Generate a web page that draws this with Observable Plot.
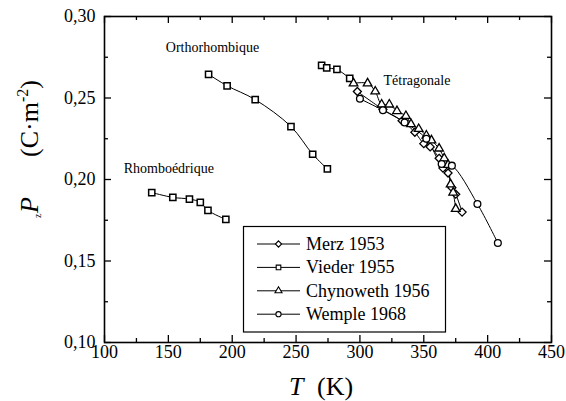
<!DOCTYPE html>
<html><head><meta charset="utf-8">
<script src="https://cdn.jsdelivr.net/npm/d3@7"></script>
<script src="https://cdn.jsdelivr.net/npm/@observablehq/plot@0.6"></script>
<style>body{margin:0;background:#fff}#chart{width:566px;height:401px}#chart svg text{font-family:'Liberation Serif','Times New Roman',serif}</style>
</head><body><div id="chart"></div>
<script>
// ---- data ----
const seriesNames = ["Merz 1953", "Vieder 1955", "Chynoweth 1956", "Wemple 1968"];

const merzT = [298, 318, 333, 343, 350, 355, 362, 365, 369, 372, 375, 380];
const merzP = [0.254, 0.243, 0.236, 0.229, 0.222, 0.220, 0.213, 0.207, 0.204, 0.195, 0.191, 0.180];

const viederRhomboT = [137, 153.5, 166.5, 175, 181, 195];
const viederRhomboP = [0.192, 0.189, 0.188, 0.186, 0.181, 0.1755];
const viederOrthoT = [181.5, 196, 218, 246, 263, 274.5];
const viederOrthoP = [0.2645, 0.2575, 0.249, 0.2325, 0.2155, 0.2065];
const viederTetraT = [270, 274, 282, 292];
const viederTetraP = [0.270, 0.2685, 0.2675, 0.262];

const chynT = [295, 306, 312, 317, 323, 329, 336, 340, 346, 352, 356, 362, 366, 369, 371, 373, 375];
const chynP = [0.259, 0.259, 0.254, 0.246, 0.246, 0.242, 0.239, 0.234, 0.231, 0.227, 0.224, 0.219, 0.213, 0.209, 0.197, 0.192, 0.182];

const wempleT = [300, 318, 335, 352, 364, 372, 392, 408];
const wempleP = [0.2495, 0.2425, 0.235, 0.225, 0.2095, 0.2085, 0.185, 0.161];

const xTicks = [100, 150, 200, 250, 300, 350, 400, 450];
const xMinor = [125, 175, 225, 275, 325, 375, 425];
const yTicks = [0.10, 0.15, 0.20, 0.25, 0.30];
const yMinor = [0.125, 0.175, 0.225, 0.275];

const phaseLabels = ["Rhomboédrique", "Orthorhombique", "Tétragonale"];
const phaseLabelT = [115, 148, 318.5];
const phaseLabelP = [0.2067, 0.281, 0.2607];

// ---- build table ----
function rows(series, seg, T, P) { return T.map((t, i) => ({series, seg, T: t, P: P[i]})); }
const merz = rows(seriesNames[0], "merz", merzT, merzP);
const vieder = [
  ...rows(seriesNames[1], "vR", viederRhomboT, viederRhomboP),
  ...rows(seriesNames[1], "vO", viederOrthoT, viederOrthoP),
  ...rows(seriesNames[1], "vT", viederTetraT, viederTetraP)
];
const chyn = rows(seriesNames[2], "chyn", chynT, chynP);
const wemple = rows(seriesNames[3], "wemple", wempleT, wempleP);
const all = [...merz, ...vieder, ...chyn, ...wemple];
const labels = phaseLabels.map((s, i) => ({s, T: phaseLabelT[i], P: phaseLabelP[i]}));

const W = 566, H = 401, mL = 104, mR = 15, mT = 16, mB = 59;
const pw = W - mL - mR, ph = H - mT - mB;
const major = 7, minor = 4;
const font = "'Liberation Serif', 'Times New Roman', serif";
const dotOpts = {x: "T", y: "P", fill: "white", stroke: "black", strokeWidth: 1.3};

const svg = Plot.plot({
  width: W, height: H,
  marginLeft: mL, marginRight: mR, marginTop: mT, marginBottom: mB,
  style: {fontFamily: font, fontSize: "18px", color: "black", background: "white"},
  x: {domain: [100, 450]},
  y: {domain: [0.10, 0.30]},
  marks: [
    Plot.axisX(xTicks, {tickSize: 0, tickPadding: 3, label: null, fontSize: 18}),
    Plot.axisY(yTicks, {tickSize: 0, tickPadding: 9, label: null, fontSize: 18,
      tickFormat: d => d.toFixed(2).replace(".", ",")}),
    Plot.ruleX(xTicks, {x: d => d, insetTop: ph - major, stroke: "black", strokeWidth: 1.3}),
    Plot.ruleX(xTicks, {x: d => d, insetBottom: ph - major, stroke: "black", strokeWidth: 1.3}),
    Plot.ruleX(xMinor, {x: d => d, insetTop: ph - minor, stroke: "black", strokeWidth: 1.3}),
    Plot.ruleX(xMinor, {x: d => d, insetBottom: ph - minor, stroke: "black", strokeWidth: 1.3}),
    Plot.ruleY(yTicks, {y: d => d, insetRight: pw - major, stroke: "black", strokeWidth: 1.3}),
    Plot.ruleY(yTicks, {y: d => d, insetLeft: pw - major, stroke: "black", strokeWidth: 1.3}),
    Plot.ruleY(yMinor, {y: d => d, insetRight: pw - minor, stroke: "black", strokeWidth: 1.3}),
    Plot.ruleY(yMinor, {y: d => d, insetLeft: pw - minor, stroke: "black", strokeWidth: 1.3}),
    Plot.frame({stroke: "black", strokeWidth: 1.6}),
    Plot.line(all, {x: "T", y: "P", z: "seg", curve: "catmull-rom", stroke: "black", strokeWidth: 1}),
    Plot.dot(vieder, {...dotOpts, symbol: "square", r: 3.5, strokeWidth: 1.5}),
    Plot.dot(merz, {...dotOpts, symbol: "diamond2", r: 3.6}),
    Plot.dot(chyn, {...dotOpts, symbol: "triangle", r: 3.2}),
    Plot.dot(wemple, {...dotOpts, symbol: "circle", r: 3.4}),
    Plot.text(labels, {x: "T", y: "P", text: "s", textAnchor: "start", fontSize: 14, fill: "black"})
  ]
});

// ---- legend and axis titles ----
const g = d3.select(svg).append("g").attr("font-family", font).attr("fill", "black").attr("text-anchor", "start");
const leg = g.append("g");
leg.append("rect").attr("x", 243.5).attr("y", 226.5).attr("width", 202).attr("height", 105.5)
  .attr("fill", "white").attr("stroke", "black").attr("stroke-width", 1.2);
const symTypes = [d3.symbolDiamond2 || d3.symbolDiamond, d3.symbolSquare, d3.symbolTriangle, d3.symbolCircle];
const symSizes = [2.8, 2.6, 2.6, 2.6];
seriesNames.forEach((name, i) => {
  const cy = 244 + i * 23.4;
  leg.append("line").attr("x1", 257).attr("x2", 300).attr("y1", cy).attr("y2", cy)
    .attr("stroke", "black").attr("stroke-width", 1);
  leg.append("path").attr("d", d3.symbol(symTypes[i], Math.PI * symSizes[i] ** 2)())
    .attr("transform", `translate(278.5,${cy})`).attr("fill", "white").attr("stroke", "black").attr("stroke-width", 1.1);
  leg.append("text").attr("x", 306).attr("y", cy + 6).attr("font-size", 18).text(name);
});

// x title
const xt = g.append("text").attr("y", 395).attr("font-size", 26);
xt.append("tspan").attr("x", 289).attr("font-style", "italic").text("T");
xt.append("tspan").attr("x", 317).text("(K)");

// y title
g.append("text").attr("transform", "translate(38,213) rotate(-90)").attr("font-size", 26)
  .attr("font-style", "italic").text("P");
g.append("text").attr("transform", "translate(41,218) rotate(-90)").attr("font-size", 10).text("z");
const yt = g.append("text").attr("transform", "translate(38,157) rotate(-90)").attr("font-size", 26);
yt.append("tspan").text("(C·m");
yt.append("tspan").attr("font-size", 16).attr("dy", -10).text("-2");
yt.append("tspan").attr("dy", 10).text(")");

d3.select(svg).selectAll("text").style("font-family", font);
document.getElementById("chart").appendChild(svg);
</script>
</body></html>
